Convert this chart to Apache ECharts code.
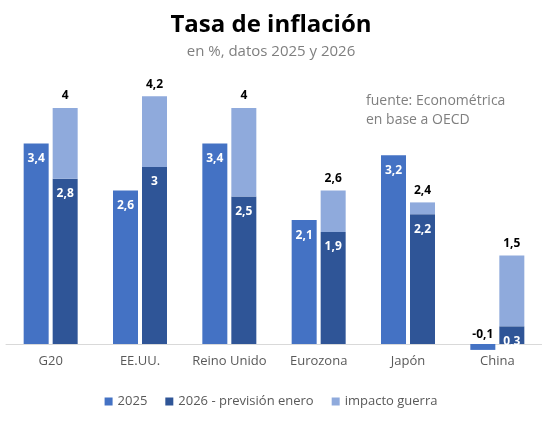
<!DOCTYPE html>
<html>
<head>
<meta charset="utf-8">
<title>Tasa de inflación</title>
<script src="https://cdn.jsdelivr.net/npm/echarts@6/dist/echarts.min.js"></script>
<style>
  html, body { margin: 0; padding: 0; background: #fff; }
  #chart { width: 542px; height: 422px; }
</style>
</head>
<body>
<div id="chart"></div>
<script>
// datos
const categories = ['G20', 'EE.UU.', 'Reino Unido', 'Eurozona', 'Japón', 'China'];
const values2025 = [3.4, 2.6, 3.4, 2.1, 3.2, -0.1];
const values2026 = [2.8, 3, 2.5, 1.9, 2.2, 0.3];
const impactoGuerra = [1.2, 1.2, 1.5, 0.7, 0.2, 1.2];
const totals2026 = [4, 4.2, 4, 2.6, 2.4, 1.5];

const fmt = v => String(v).replace('.', ',');
const FONT = '"Open Sans", "Noto Sans", sans-serif';

let myChart = echarts.init(document.getElementById('chart'));

let option = {
    animation: false,
    textStyle: { fontFamily: FONT },
    title: {
        text: 'Tasa de inflación',
        subtext: 'en %, datos 2025 y 2026',
        left: 'center',
        top: 8,
        itemGap: 7,
        textStyle: { fontSize: 24, fontWeight: 'bold', color: '#000', fontFamily: FONT },
        subtextStyle: { fontSize: 15, color: '#7f7f7f', fontFamily: FONT }
    },
    graphic: [{
        type: 'text',
        left: 366,
        top: 92,
        style: {
            text: 'fuente: Econométrica\nen base a OECD',
            fill: '#7f7f7f',
            font: '14px ' + FONT,
            lineHeight: 19
        }
    }],
    legend: {
        bottom: 9,
        left: 'center',
        itemWidth: 8,
        itemHeight: 8,
        itemGap: 18,
        icon: 'rect',
        textStyle: { fontSize: 13, color: '#595959', fontFamily: FONT },
        data: ['2025', '2026 - previsión enero', 'impacto guerra']
    },
    grid: { left: 6, right: 0, top: 78.5, bottom: 66.2 },
    xAxis: {
        type: 'category',
        data: categories,
        axisLine: { onZero: true, lineStyle: { color: '#d9d9d9' } },
        axisTick: { show: false },
        axisLabel: { interval: 0, fontSize: 13, color: '#595959', margin: -1, fontFamily: FONT }
    },
    yAxis: {
        type: 'value',
        min: -0.2,
        max: 4.5,
        show: false,
        splitLine: { show: false }
    },
    series: [
        {
            name: '2025',
            type: 'bar',
            stack: 'actual',
            barWidth: 25,
            barGap: '16%',
            itemStyle: { color: '#4472C4' },
            label: {
                show: true,
                position: 'insideTop',
                distance: 9,
                color: '#fff',
                fontWeight: 'bold',
                fontSize: 12,
                formatter: p => fmt(p.value)
            },
            data: values2025.map(v => v < 0
                ? { value: v, label: { position: 'top', color: '#000', distance: 3 } }
                : v)
        },
        {
            name: '2026 - previsión enero',
            type: 'bar',
            stack: 'prevision',
            barWidth: 25,
            itemStyle: { color: '#2F5597' },
            label: {
                show: true,
                position: 'insideTop',
                distance: 9,
                color: '#fff',
                fontWeight: 'bold',
                fontSize: 12,
                formatter: p => fmt(p.value)
            },
            data: values2026
        },
        {
            name: 'impacto guerra',
            type: 'bar',
            stack: 'prevision',
            barWidth: 25,
            itemStyle: { color: '#8FAADC' },
            label: {
                show: true,
                position: 'top',
                distance: 6,
                color: '#000',
                fontWeight: 'bold',
                fontSize: 12,
                formatter: p => fmt(totals2026[p.dataIndex])
            },
            data: impactoGuerra
        }
    ]
};

myChart.setOption(option);
window.addEventListener('resize', function () {
    myChart.resize();
});
</script>
</body>
</html>
